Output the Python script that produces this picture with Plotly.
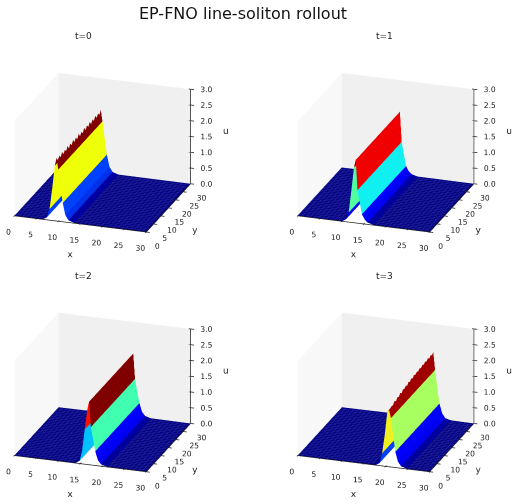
import numpy as np
import plotly.graph_objects as go

TITLE = "EP-FNO line-soliton rollout"
PANEL_TITLES = ["t=0", "t=1", "t=2", "t=3"]
TITLE_POS = [(83, 36), (384, 36), (83, 276), (384, 276)]
Y_ROWS = [i * 0.9375 for i in range(33)]

# ridge cross-sections: node position, height, and the colour of the strip to the right of it
X0 = [0.0, 6.6, 7.4, 8.0, 8.6, 9.2, 9.6, 10.0, 11.0, 11.6, 12.3, 13.6, 30.0]
U0 = [0.0, 0.01, 0.08, 0.35, 1.0, 1.75, 2.0, 1.64, 0.6, 0.22, 0.07, 0.01, 0.0]
C0 = ["#00007f", "#0000a0", "#0040ff", "#eeff08", "#eeff08", "#800000", "#800000", "#eeff08",
      "#0040ff", "#0030e8", "#0000a0", "#00007f"]

X1 = [0.0, 10.2, 11.0, 11.6, 12.2, 12.8, 13.2, 13.6, 14.6, 15.2, 15.9, 17.2, 30.0]
U1 = [0.0, 0.01, 0.08, 0.3, 1.0, 1.75, 2.0, 1.05, 0.3, 0.15, 0.06, 0.01, 0.0]
C1 = ["#00007f", "#0000a0", "#0000ff", "#50ffa0", "#50ffa0", "#800000", "#f00000", "#10f0f0",
      "#0000ff", "#0000f0", "#0000a0", "#00007f"]

X2 = [0.0, 14.0, 14.8, 15.4, 16.0, 16.6, 17.0, 17.4, 18.4, 19.0, 19.7, 21.0, 30.0]
U2 = [0.0, 0.01, 0.08, 0.4, 1.1, 1.75, 2.0, 1.2, 0.45, 0.18, 0.06, 0.01, 0.0]
C2 = ["#00007f", "#0000a0", "#00c0ff", "#00c0ff", "#ff1000", "#ff1000", "#800000", "#40ffb0",
      "#0000ff", "#0000f0", "#0000a0", "#00007f"]

X3 = [0.0, 17.8, 18.6, 19.2, 19.8, 20.4, 20.8, 21.2, 22.2, 22.8, 23.5, 24.8, 30.0]
U3 = [0.0, 0.01, 0.08, 0.4, 1.0, 1.75, 2.1, 1.55, 0.5, 0.2, 0.06, 0.01, 0.0]
C3 = ["#00007f", "#0000a0", "#0040ff", "#f0f020", "#f0f020", "#a00000", "#a00000", "#a8ff60",
      "#0000ff", "#0000f0", "#0000a0", "#00007f"]

# crest height drop row by row along y
CREST_DROP0 = [0.0, 0.12, 0.02, 0.13, 0.0, 0.12, 0.03, 0.12, 0.0, 0.13, 0.02, 0.12, 0.0, 0.12, 0.02, 0.13, 0.0,
               0.12, 0.03, 0.13, 0.0, 0.12, 0.02, 0.12, 0.0, 0.13, 0.02, 0.12, 0.0, 0.12, 0.03, 0.12, 0.0]
CREST_DROP1 = [0.0] * 33
CREST_DROP2 = [0.0] * 33
CREST_DROP3 = [0.3, 0.36, 0.26, 0.3, 0.2, 0.26, 0.18, 0.22, 0.14, 0.2, 0.12, 0.16, 0.1, 0.15, 0.08, 0.12, 0.06,
               0.11, 0.05, 0.09, 0.04, 0.08, 0.03, 0.07, 0.02, 0.06, 0.01, 0.05, 0.0, 0.05, 0.0, 0.04, 0.0]

AXIS_TICKS = [0, 5, 10, 15, 20, 25, 30]
U_TICKS = [0, 0.5, 1, 1.5, 2, 2.5, 3]
U_LABELS = ["0.0", "0.5", "1.0", "1.5", "2.0", "2.5", "3.0"]

PANELS = [(X0, U0, C0, CREST_DROP0), (X1, U1, C1, CREST_DROP1),
          (X2, U2, C2, CREST_DROP2), (X3, U3, C3, CREST_DROP3)]

# scene rectangles in page pixels (left, right, top, bottom), and where the box centre should land
SCENE_PX = [(0, 250, 30, 260), (264, 514, 30, 260), (0, 250, 274, 504), (264, 514, 274, 504)]
BOX_CENTRE_PX = [(104, 152), (386, 152), (104, 392), (386, 392)]

W, H = 514, 504
RX, RY = [-8, 40], [-8, 38]
RZ = [-1, 4]
PX_PER_UNIT = 107.0
BOX_SCALE = 1.21
EYE_DIST = 1.5
VIEW = np.array([0.296, -0.882, 0.366])
RIGHT = np.array([0.948, 0.319, 0.0])
UP = np.array([-0.117, 0.347, 0.93])
INK = "#222222"

fig = go.Figure()
flat = dict(ambient=1, diffuse=0, specular=0, roughness=1, fresnel=0)


def strips(xs, us, cs):
    # duplicate each inner node so every strip keeps a single flat colour
    levels = sorted(set(cs))
    idx = {c: i for i, c in enumerate(levels)}
    xx, uu, cc = [], [], []
    for i, c in enumerate(cs):
        xx += [xs[i], xs[i + 1] - 1e-3]
        uu += [us[i], us[i + 1]]
        cc += [idx[c], idx[c]]
    n = len(levels)
    scale = []
    for i, c in enumerate(levels):
        scale += [[i / n, c], [(i + 1) / n, c]]
    return xx, uu, cc, scale, n


def solid(x, y, z, colour, scene):
    fig.add_trace(go.Surface(x=x, y=y, z=z, surfacecolor=np.zeros_like(z), showscale=False,
                             colorscale=[[0, colour], [1, colour]], cmin=0, cmax=1,
                             lighting=flat, scene=scene, hoverinfo="skip"))


def segments(points, scene, width=1.5):
    xs, ys, zs = [], [], []
    for a, b in points:
        xs += [a[0], b[0], None]
        ys += [a[1], b[1], None]
        zs += [a[2], b[2], None]
    fig.add_trace(go.Scatter3d(x=xs, y=ys, z=zs, mode="lines", scene=scene, hoverinfo="skip",
                               line=dict(color=INK, width=width), showlegend=False))


def labels(x, y, z, text, scene, size=7.5):
    fig.add_trace(go.Scatter3d(x=x, y=y, z=z, mode="text", text=text, scene=scene,
                               textposition="middle center", hoverinfo="skip", showlegend=False,
                               textfont=dict(size=size, color=INK, family="DejaVu Sans")))


for k, (xs, us, cs, drop) in enumerate(PANELS):
    scene = "scene" + (str(k + 1) if k else "")

    # side wall at x=0 and back wall at y=30
    solid(np.zeros((2, 2)), np.array([[0, 30], [0, 30]]), np.array([[0, 0], [3, 3]]), "#f8f8f8", scene)
    solid(np.array([[0, 30], [0, 30]]), np.full((2, 2), 30), np.array([[0, 0], [3, 3]]), "#f0f0f0", scene)

    xx, uu, cc, scale, n = strips(xs, us, cs)
    z = np.tile(np.array(uu, float), (len(Y_ROWS), 1))
    peak = max(uu)
    for r, d in enumerate(drop):
        z[r, z[r] >= peak - 1e-3] -= d
    sc = np.tile(np.array(cc, float) + 0.5, (len(Y_ROWS), 1))
    xx = np.array(xx)

    # the ridge carries no grid lines; the flat floor either side of it does
    fig.add_trace(go.Surface(x=xx[1:-1], y=Y_ROWS, z=z[:, 1:-1], surfacecolor=sc[:, 1:-1],
                             colorscale=scale, cmin=0, cmax=n, showscale=False, scene=scene,
                             lighting=flat))
    grid = dict(show=True, size=0.9375, color="#2626a0", width=1)
    for xa, xb, ua, ub in [(xs[0], xs[1], us[0], us[1]), (xs[-2], xs[-1], us[-2], us[-1])]:
        fig.add_trace(go.Surface(x=[xa, xb], y=Y_ROWS,
                                 z=np.tile([ua, ub], (len(Y_ROWS), 1)),
                                 surfacecolor=np.zeros((len(Y_ROWS), 2)),
                                 colorscale=[[0, "#00007f"], [1, "#00007f"]], cmin=0, cmax=1,
                                 showscale=False, scene=scene, lighting=flat,
                                 contours=dict(x=dict(start=0, end=30, **grid),
                                               y=dict(start=0, end=30, **grid))))

    # axis spines and tick marks
    spines = [((0, 0, 0), (30, 0, 0)), ((30, 0, 0), (30, 30, 0)), ((30, 30, 0), (30, 30, 3))]
    ticks = [((v, -0.5, 0), (v, 0.6, 0)) for v in AXIS_TICKS]
    ticks += [((29.4, v, 0), (30.8, v, 0)) for v in AXIS_TICKS]
    ticks += [((29.6, 30, v), (30.8, 30, v)) for v in U_TICKS]
    segments(spines + ticks, scene)

    labels(AXIS_TICKS, [-4] * 7, [-0.3] * 7, [str(v) for v in AXIS_TICKS], scene)
    labels([32.5] * 7, AXIS_TICKS, [-0.4] * 7, [str(v) for v in AXIS_TICKS], scene)
    labels([33.6] * 7, [30] * 7, [v + 0.06 for v in U_TICKS], U_LABELS, scene)
    labels([15, 36, 38], [-7, 15, 30], [-0.62, -0.64, 1.8], ["x", "y", "u"], scene, size=9)

    l, r, t, b = SCENE_PX[k]
    cx, cy = BOX_CENTRE_PX[k]
    # the camera looks at the middle of the axis ranges, so allow for their asymmetry
    mid = np.array([(RX[0] + RX[1]) / 2 - 15, (RY[0] + RY[1]) / 2 - 15, (RZ[0] + RZ[1]) / 2 - 1.5])
    box = BOX_SCALE * np.array([1 / 30, 1 / 30, 0.73 / 3])
    dx, dy = cx - (l + r) / 2, cy - (t + b) / 2
    centre = -(dx / PX_PER_UNIT) * RIGHT + (dy / PX_PER_UNIT) * UP - mid * box
    eye = centre + VIEW * EYE_DIST
    hidden = dict(visible=False, showbackground=False, showgrid=False, zeroline=False)
    fig.update_layout({scene: dict(
        domain=dict(x=[l / W, r / W], y=[1 - b / H, 1 - t / H]),
        xaxis=dict(range=RX, **hidden), yaxis=dict(range=RY, **hidden), zaxis=dict(range=RZ, **hidden),
        aspectmode="manual",
        aspectratio=dict(x=box[0] * (RX[1] - RX[0]), y=box[1] * (RY[1] - RY[0]),
                         z=box[2] * (RZ[1] - RZ[0])),
        camera=dict(projection=dict(type="orthographic"),
                    eye=dict(x=eye[0], y=eye[1], z=eye[2]),
                    center=dict(x=centre[0], y=centre[1], z=centre[2]),
                    up=dict(x=0, y=0, z=1)),
    )})

for tx, (cx, cy) in zip(PANEL_TITLES, TITLE_POS):
    fig.add_annotation(x=cx / W, y=1 - cy / H, xref="paper", yref="paper", text=tx,
                       xanchor="center", yanchor="middle", showarrow=False,
                       font=dict(size=9, color=INK))

fig.update_layout(
    width=W, height=H, margin=dict(l=0, r=0, t=0, b=0), showlegend=False,
    font=dict(family="DejaVu Sans"), paper_bgcolor="white",
    title=dict(text=TITLE, x=243 / W, xanchor="center", y=1 - 13 / H, yanchor="middle",
               font=dict(size=16, color="#111")),
)
fig.write_html("out.html")
